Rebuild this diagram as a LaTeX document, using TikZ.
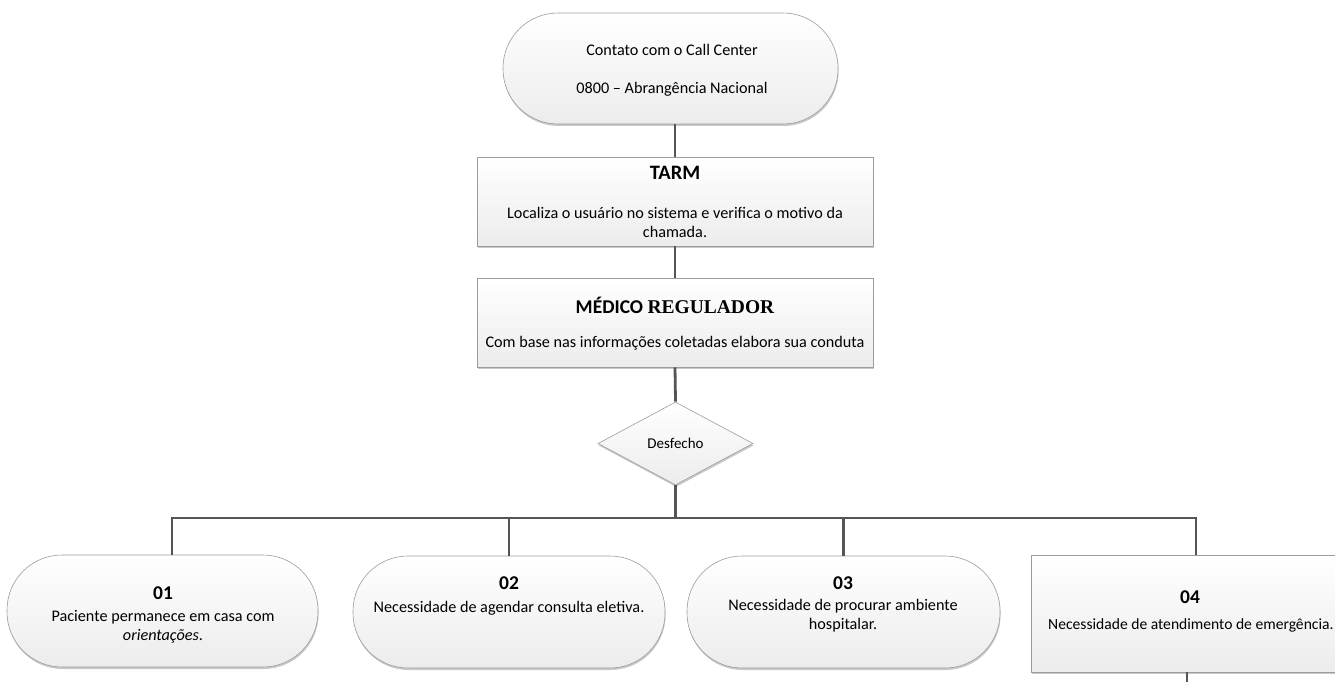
\documentclass[tikz,border=0pt]{standalone}
\usepackage{fontspec}
\setmainfont{Carlito}
\newfontfamily\serifreg{Liberation Serif}
\usetikzlibrary{shapes.geometric,shadows}
\definecolor{conncol}{HTML}{555555}
\definecolor{edgecol}{HTML}{9C9C9C}
\definecolor{fillbot}{HTML}{ECECEC}
\tikzset{
  boxbase/.style={draw=edgecol, line width=0.6pt, top color=white, bottom color=fillbot,
    drop shadow={shadow xshift=0.6pt, shadow yshift=-2pt, fill=black!30, opacity=0.7},
    inner sep=0pt},
  pill/.style={boxbase, rectangle, rounded corners=55pt, minimum width=311pt, minimum height=112pt},
  rectbox/.style={boxbase, rectangle, minimum width=396pt, minimum height=89pt},
  decision/.style={boxbase, diamond, minimum width=155pt, minimum height=83pt, aspect=1.87},
  conn/.style={draw=conncol, line width=2.8pt},
  body/.style={font=\fontsize{16.2}{19}\selectfont, align=center, inner sep=0pt},
  title/.style={font=\fontsize{19.5}{23}\selectfont\bfseries, align=center, inner sep=0pt},
}
\begin{document}
\begin{tikzpicture}[x=1pt,y=-1pt]
\useasboundingbox (0,0) rectangle (1335,682);
\clip (0,0) rectangle (1335,682);
% shapes
\node[pill, minimum width=335pt, minimum height=111pt] (top) at (670.5,68.5) {};
\node[rectbox] (tarm) at (675,201.5) {};
\node[rectbox] (med) at (675,322.5) {};
\node[decision] (des) at (675.5,443.5) {};
\node[pill] (p1) at (162.5,611) {};
\node[pill, minimum width=312pt] (p2) at (509,612) {};
\node[pill, minimum width=313pt] (p3) at (843.5,612) {};
\node[boxbase, rectangle, minimum width=322pt, minimum height=117pt] (p4) at (1192,613.5) {};
% texts
\node[body] (ttop) at (672,70.5) {Contato com o Call Center\\[19pt]0800 -- Abrangência Nacional};
\node[title, font=\fontsize{20.5}{24}\selectfont\bfseries] (ttarm) at (675,173) {TARM};
\node[body] (btarm) at (675,222) {Localiza o usuário no sistema e verifica o motivo da\\chamada.};
\node[title] (tmed) at (675,305) {MÉDICO {\serifreg REGULADOR}};
\node[body] (bmed) at (675,343) {Com base nas informações coletadas elabora sua conduta};
\node[body, font=\fontsize{15}{18}\selectfont] (tdes) at (675.5,443.5) {Desfecho};
\node[title] (t1) at (163,593) {01};
\node[body] (b1) at (163,627) {Paciente permanece em casa com\\\textit{orientações}.};
\node[title] (t2) at (509,583) {02};
\node[body] (b2) at (509,608) {Necessidade de agendar consulta eletiva.};
\node[title] (t3) at (843,583) {03};
\node[body] (b3) at (843,616) {Necessidade de procurar ambiente\\hospitalar.};
\node[title] (t4) at (1190,597) {04};
\node[body, font=\fontsize{15.6}{19}\selectfont, anchor=west] (b4) at (1048,625) {Necessidade de atendimento de emergência.};
% connectors
\coordinate (bus) at (0,518);
\coordinate (p1in) at (172,555);
\coordinate (p4in) at (1196,555);
\coordinate (p4out) at (1187,672);
\coordinate (exitend) at (1187,690);
\draw[conn] (tarm.north) -- (tarm.north |- top.south);
\draw[conn] (med.north) -- (tarm.south);
\draw[conn] (des.north) -- (med.south);
\draw[conn] (des.south) -- (des.south |- bus);
\draw[conn] (p1in) -- (p1in |- bus) -- (p4in |- bus) -- (p4in);
\draw[conn] (p2.north) -- (p2.north |- bus);
\draw[conn] (p3.north) -- (p3.north |- bus);
\draw[conn] (p4out) -- (exitend);
\end{tikzpicture}
\end{document}
